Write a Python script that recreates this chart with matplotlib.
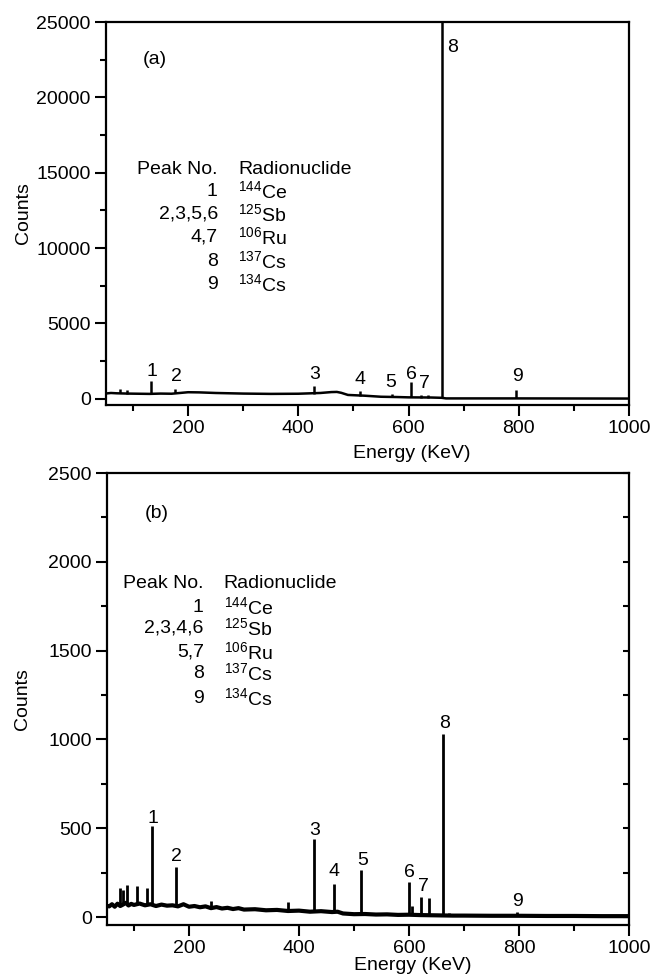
import matplotlib
matplotlib.use("Agg")
import matplotlib.pyplot as plt
from matplotlib.ticker import MultipleLocator

plt.rcParams['font.family'] = ['Liberation Sans', 'DejaVu Sans']
plt.rcParams['mathtext.default'] = 'regular'

# ---- panel (a) ----
bg_energy_a = [52, 60, 70, 90, 110, 130, 150, 170, 185, 200, 220, 250, 300, 350, 400,
               440, 460, 470, 478, 490, 520, 550, 580, 600, 640, 660, 668, 700, 800, 1000]
bg_counts_a = [350, 380, 360, 340, 330, 320, 340, 330, 380, 430, 420, 380, 340, 320, 330,
               380, 440, 450, 390, 250, 200, 130, 110, 90, 80, 60, 20, 20, 20, 10]
peak_energy_a = [77, 90, 133.5, 176.5, 428, 512, 570, 604.5, 622, 636, 661.6, 795.5]
peak_counts_a = [650, 550, 1150, 650, 850, 500, 280, 1100, 250, 250, 30000, 600]
peak_base_a = [380, 340, 320, 360, 330, 200, 110, 90, 80, 80, 60, 20]
label_text_a = ['1', '2', '3', '4', '5', '6', '7', '9']
label_x_a = [135, 178, 430, 512, 568, 605, 628, 797]
label_y_a = [1800, 1450, 1600, 1250, 1050, 1600, 1000, 1450]

# ---- panel (b) ----
bg_energy_b = [52, 55, 60, 65, 70, 75, 80, 85, 90, 95, 100, 110, 120, 130, 140, 150, 160,
               170, 180, 190, 200, 210, 220, 230, 240, 250, 260, 270, 280, 290, 300, 320,
               340, 360, 380, 400, 420, 440, 460, 470, 480, 490, 500, 520, 540, 560, 580,
               600, 620, 640, 660, 680, 700, 750, 800, 850, 900, 950, 1000]
bg_counts_b = [62, 60, 72, 58, 75, 62, 70, 80, 65, 74, 68, 76, 66, 72, 62, 70, 64,
               66, 60, 72, 58, 62, 55, 60, 50, 56, 48, 52, 45, 50, 42, 44,
               38, 40, 34, 36, 30, 33, 28, 30, 20, 18, 16, 17, 14, 15, 12,
               13, 11, 10, 9, 8, 8, 7, 7, 6, 6, 5, 5]
peak_energy_b = [75, 80, 87, 105, 123, 133.5, 176.5, 240, 380, 428, 463.4, 511.9,
                 600.6, 606, 621.9, 635.9, 661.6, 672, 795.5]
peak_counts_b = [165, 150, 180, 175, 165, 510, 280, 88, 85, 440, 186, 265,
                 195, 60, 115, 107, 1030, 25, 30]
peak_base_b = [65, 70, 70, 70, 66, 68, 62, 52, 34, 32, 30, 18,
               13, 13, 12, 11, 10, 9, 7]
label_text_b = ['1', '2', '3', '4', '5', '6', '7', '8', '9']
label_x_b = [134, 178, 428, 463, 516, 600, 626, 665, 797]
label_y_b = [552, 343, 490, 259, 317, 248, 171, 1090, 86]

# ---- nuclide tables ----
table_peaks_a = ['1', '2,3,5,6', '4,7', '8', '9']
table_peaks_b = ['1', '2,3,4,6', '5,7', '8', '9']
table_nuclides = [r'$^{144}$Ce', r'$^{125}$Sb', r'$^{106}$Ru', r'$^{137}$Cs', r'$^{134}$Cs']

fs = 14
fig = plt.figure(figsize=(6.53, 9.8), dpi=100)
ax1 = fig.add_axes([0.1623, 0.5867, 0.8009, 0.3908])
ax2 = fig.add_axes([0.1639, 0.0561, 0.7994, 0.4612])


def style_axes(ax, ymaj, ymin_step):
    for s in ax.spines.values():
        s.set_linewidth(1.6)
    ax.set_xlim(51, 1000)
    ax.xaxis.set_major_locator(MultipleLocator(200))
    ax.xaxis.set_minor_locator(MultipleLocator(100))
    ax.yaxis.set_major_locator(MultipleLocator(ymaj))
    ax.yaxis.set_minor_locator(MultipleLocator(ymin_step))
    ax.tick_params(which='major', direction='out', length=8, width=1.5,
                   labelsize=fs, pad=3)
    ax.tick_params(which='minor', direction='out', length=4, width=1.5)
    ax.set_xlabel('Energy (KeV)', fontsize=fs)
    ax.set_ylabel('Counts', fontsize=fs)


# panel (a)
ax1.plot(bg_energy_a, bg_counts_a, color='black', lw=1.8)
ax1.vlines(peak_energy_a, peak_base_a, peak_counts_a, color='black', lw=1.8)
ax1.set_ylim(-420, 25000)
style_axes(ax1, 5000, 2500)
ax1.xaxis.set_label_coords(0.585, -0.104)
ax1.yaxis.set_label_coords(-0.142, 0.5)
for t, x, y in zip(label_text_a, label_x_a, label_y_a):
    ax1.text(x, y, t, fontsize=fs, ha='center', va='center')
ax1.text(670, 23300, '8', fontsize=fs, ha='left', va='center')
ax1.text(140, 22490, '(a)', fontsize=fs, ha='center', va='center')
row_y_a = [15200, 13750, 12230, 10710, 9120, 7600]
ax1.text(254, row_y_a[0], 'Peak No.', fontsize=fs, ha='right', va='center')
ax1.text(291, row_y_a[0], 'Radionuclide', fontsize=fs, ha='left', va='center')
for p, n, y in zip(table_peaks_a, table_nuclides, row_y_a[1:]):
    ax1.text(254, y, p, fontsize=fs, ha='right', va='center')
    ax1.text(291, y, n, fontsize=fs, ha='left', va='center')

# panel (b)
ax2.plot(bg_energy_b, bg_counts_b, color='black', lw=3.0)
ax2.vlines(peak_energy_b, peak_base_b, peak_counts_b, color='black', lw=2.0)
ax2.set_ylim(-45, 2500)
style_axes(ax2, 500, 250)
ax2.xaxis.set_label_coords(0.585, -0.071)
ax2.yaxis.set_label_coords(-0.145, 0.5)
for t, x, y in zip(label_text_b, label_x_b, label_y_b):
    ax2.text(x, y, t, fontsize=fs, ha='center', va='center')
ax2.text(142, 2275, '(b)', fontsize=fs, ha='center', va='center')
row_y_b = [1880, 1745, 1627, 1492, 1374, 1233]
ax2.text(227, row_y_b[0], 'Peak No.', fontsize=fs, ha='right', va='center')
ax2.text(263, row_y_b[0], 'Radionuclide', fontsize=fs, ha='left', va='center')
for p, n, y in zip(table_peaks_b, table_nuclides, row_y_b[1:]):
    ax2.text(227, y, p, fontsize=fs, ha='right', va='center')
    ax2.text(263, y, n, fontsize=fs, ha='left', va='center')

# inward ticks on the right spine of panel (b)
axr = ax2.twinx()
axr.set_ylim(ax2.get_ylim())
axr.yaxis.set_major_locator(MultipleLocator(500))
axr.yaxis.set_minor_locator(MultipleLocator(250))
axr.tick_params(which='both', direction='in', length=4, width=1.5, labelright=False)
for s in axr.spines.values():
    s.set_visible(False)

fig.savefig("out.png", dpi=100)
